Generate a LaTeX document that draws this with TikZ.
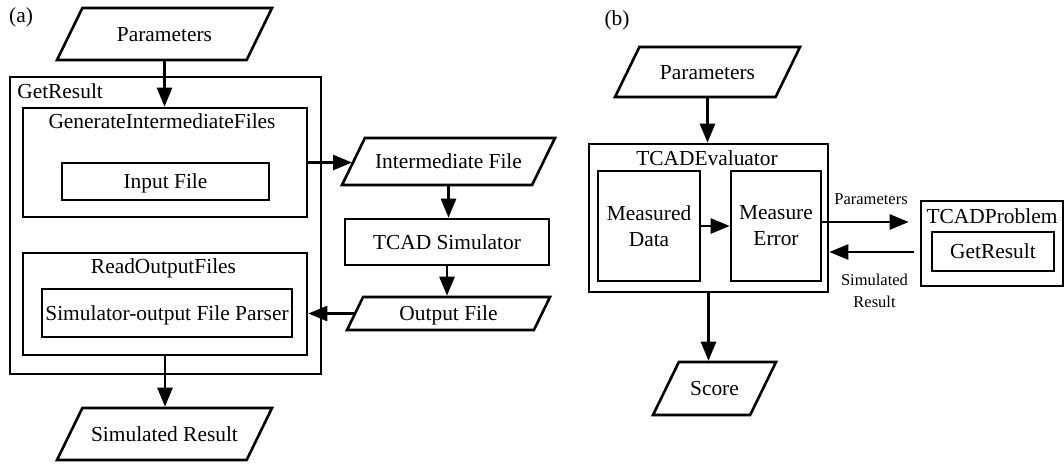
\documentclass[tikz,border=0pt]{standalone}
\usepackage{fontspec}
\setmainfont{Liberation Serif}
\usetikzlibrary{arrows.meta}
\usetikzlibrary{shapes.geometric}

\begin{document}
\begin{tikzpicture}[x=1pt,y=-1pt,line width=2.6pt,
  font=\fontsize{21.4}{26}\selectfont,
  io/.style args={#1#2}{draw, shape=trapezium, trapezium left angle=64,
    trapezium right angle=116, trapezium stretches body,
    text height=17pt, text depth=3pt, inner xsep=0pt,
    inner ysep={(#2pt-20pt)/2}, minimum width=#1pt},
  pane/.style args={#1#2}{draw, rectangle,
    minimum width=#1pt, minimum height=#2pt, inner sep=0pt},
  box/.style args={#1#2}{pane={#1}{#2}, text height=17pt, text depth=3pt},
  title/.style={anchor=base, inner sep=0pt},
  flow/.style={-{Triangle[length=19pt,width=15pt]}},
  small/.style={font=\fontsize{16.5}{22}\selectfont}]
\useasboundingbox (0,0) rectangle (1064,463);
%
% (a)
\node (lblA) at (21,17) {(a)};
\node[io={215}{52}] (parA) at (164.5,34) {Parameters};
\node[pane={311}{297}] (getres) at (165.5,225.5) {};
\node[title, anchor=base west] (getresT) at (16,98) {GetResult};
\node[pane={284}{109}] (gen) at (165,162.5) {};
\node[title] (genT) at (162,128) {GenerateIntermediateFiles};
\node[box={207}{37}] (input) at (165.5,181.5) {Input File};
\node[pane={284}{102}] (readout) at (165,304) {};
\node[title] (readT) at (163.5,273) {ReadOutputFiles};
\node[box={250}{48}] (parser) at (167,313) {Simulator-output File Parser};
\node[io={215}{52}] (simres) at (164.5,434) {Simulated Result};
\node[io={213}{47}] (inter) at (448.5,161.5) {Intermediate File};
\node[box={204}{46}] (tcadsim) at (447,242) {TCAD Simulator};
\node[io={203}{33}] (outfile) at (448.5,313.5) {Output File};
%
\draw[flow] (parA.south) -- (parA.south |- gen.north);
\draw[flow] (gen.east) -- (gen.east -| inter.west);
\draw[flow] (inter.south) -- (inter.south |- tcadsim.north);
\draw[flow] (tcadsim.south) -- (tcadsim.south |- outfile.north);
\draw[flow] (outfile.west) -- (outfile.west -| readout.east);
\draw[flow] (readout.south) -- (readout.south |- simres.north);
%
% (b)
\node (lblB) at (617,20) {(b)};
\node[io={185}{50}] (parB) at (707.5,72) {Parameters};
\node[pane={239}{148}] (evaluator) at (708.5,218) {};
\node[title] (evalT) at (707,165) {TCADEvaluator};
\node[pane={102}{110}, align=center] (measdata) at (649,226) {Measured\\Data};
\node[pane={90}{110}, align=center] (measerr) at (776,226) {Measure\\Error};
\node[io={123}{53}] (score) at (714.5,388.5) {Score};
\node[pane={142}{85}] (problem) at (992,243.5) {};
\node[title] (probT) at (992,223) {TCADProblem};
\node[box={122}{39}] (probget) at (993,251.5) {GetResult};
%
\draw[flow] (parB.south) -- (parB.south |- evaluator.north);
\draw[flow] (measdata) -- (measerr);
\draw[flow, shorten >=11pt] ([yshift=4pt]measerr.east)
  -- ([yshift=4pt]measerr.east -| problem.west)
  node[midway, above=13pt, small] {Parameters};
\draw[flow, shorten <=6pt] ([yshift=-8.5pt]problem.west)
  -- ([yshift=-8.5pt]problem.west -| evaluator.east)
  node[midway, below=17pt, small, align=center] {Simulated\\Result};
\draw[flow] (evaluator.south) -- (evaluator.south |- score.north);
\end{tikzpicture}
\end{document}
